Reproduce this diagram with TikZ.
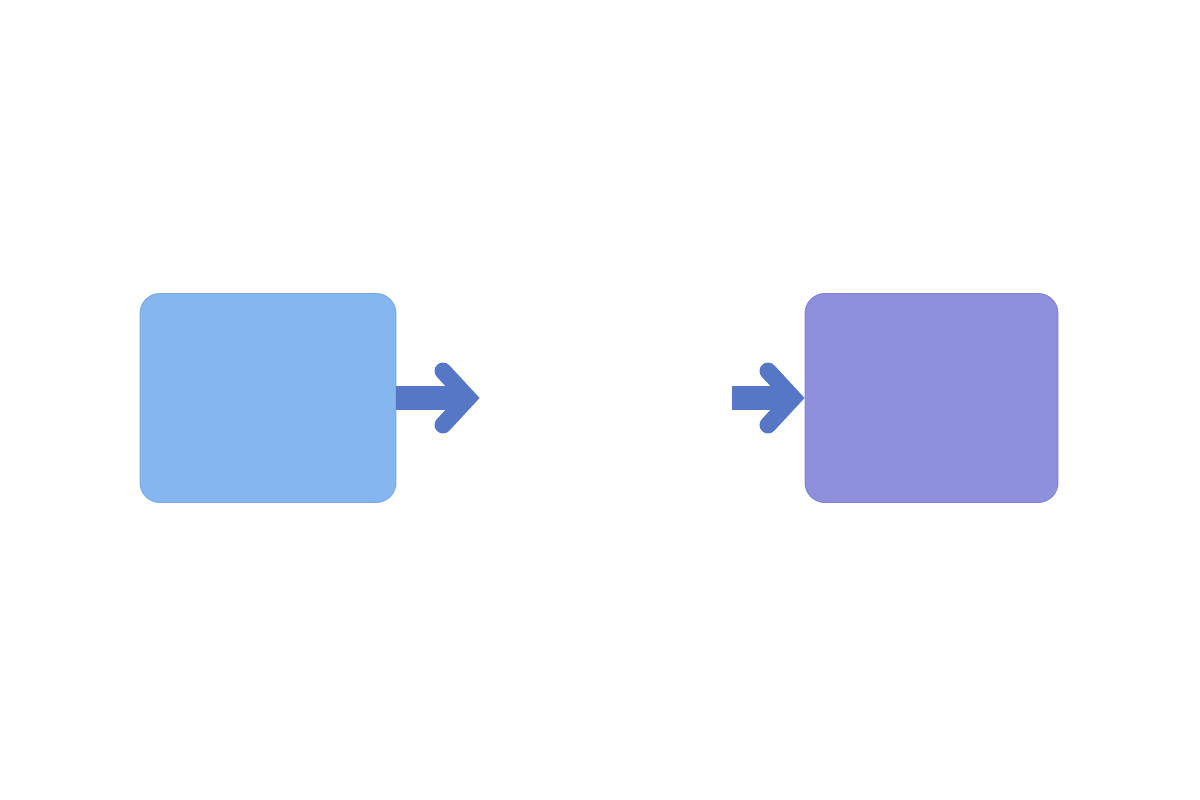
\documentclass[tikz,border=0pt]{standalone}
\usepackage{tikz}
\usetikzlibrary{positioning}
\definecolor{boxblue}{HTML}{86B6EF}
\definecolor{boxblueline}{HTML}{78A9E6}
\definecolor{boxpurple}{HTML}{8F90DC}
\definecolor{boxpurpleline}{HTML}{8283D4}
\definecolor{arrowblue}{HTML}{5677C6}
\begin{document}
\begin{tikzpicture}[x=0.02cm, y=-0.02cm,
  panel/.style = {rounded corners=0.4cm, line width=0.02cm, inner sep=0pt, minimum height=4.18cm},
  shaft/.style = {draw=arrowblue, line width=0.47cm},
  chevron/.style = {draw=arrowblue, line width=0.34cm, line cap=round, line join=miter}]

  \useasboundingbox (0,0) rectangle (1200,800);

  %boxes:
  \node[panel, fill=boxblue, draw=boxblueline, minimum width=5.12cm] (src) at (268,398) {};
  \node[panel, fill=boxpurple, draw=boxpurpleline, minimum width=5.06cm] (dst) at (931.5,398) {};

  %free ends of the arrows:
  \coordinate (srcout) at (466,398);
  \coordinate (dstin) at (732,398);

  %left arrow
  \draw[shaft] (src.east) -- (srcout);
  \draw[chevron] (443,371) -- (468,398) -- (443,425);

  %right arrow
  \draw[shaft] (dstin) -- ([xshift=-0.25cm]dst.west);
  \draw[chevron] (768,371) -- (793,398) -- (768,425);
\end{tikzpicture}
\end{document}
